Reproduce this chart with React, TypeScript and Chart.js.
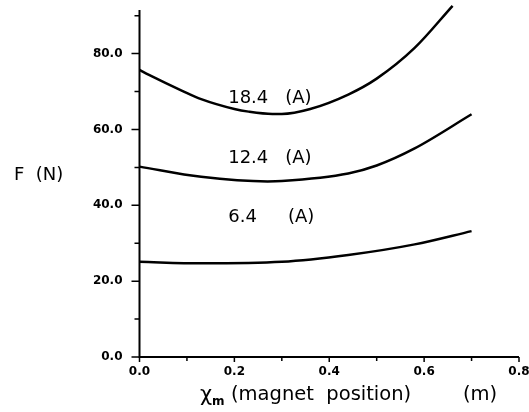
import React, { useEffect, useRef } from "react";
import { Chart, registerables } from "chart.js";

Chart.register(...registerables);

// Magnet position (m) and force (N) for three coil currents
const x184 = [0, 0.02, 0.09, 0.13, 0.2, 0.23, 0.28, 0.3, 0.36, 0.44, 0.5, 0.58, 0.66];
const f184 = [75.7, 74.4, 70.2, 68.0, 65.4, 64.7, 64.1, 64.1, 65.4, 69.2, 73.4, 81.5, 92.6];

const x124 = [0, 0.13, 0.27, 0.3, 0.44, 0.5, 0.58, 0.7];
const f124 = [50.2, 47.5, 46.3, 46.4, 48.4, 50.5, 55.0, 64.0];

const x64 = [0, 0.13, 0.3, 0.44, 0.58, 0.7];
const f64 = [25.1, 24.7, 25.1, 26.9, 29.7, 33.2];

const currentLabels = ["18.4", "12.4", "6.4"];
const xTicks = [0, 0.2, 0.4, 0.6, 0.8];
const xMinorTicks = [0.1, 0.3, 0.5, 0.7];
const yTicks = [0, 20, 40, 60, 80];
const yMinorTicks = [10, 30, 50, 70, 90];

// label anchors in data units: [number x, unit x, y]
const labelAnchors: [number, number, number][] = [
  [0.187, 0.307, 68.3],
  [0.187, 0.307, 52.5],
  [0.187, 0.313, 36.7],
];

const toPoints = (xs: number[], ys: number[]) => xs.map((x, i) => ({ x, y: ys[i] }));

const annotate = {
  id: "annotate",
  afterDraw(chart: any) {
    const { ctx, chartArea, scales } = chart;
    const xs = scales.x;
    const ys = scales.y;
    ctx.save();
    ctx.strokeStyle = "#000";
    ctx.fillStyle = "#000";
    ctx.lineWidth = 2;
    // axes
    ctx.beginPath();
    ctx.moveTo(chartArea.left, chartArea.top);
    ctx.lineTo(chartArea.left, chartArea.bottom);
    ctx.lineTo(chartArea.right, chartArea.bottom);
    ctx.stroke();
    ctx.lineWidth = 1.5;
    ctx.beginPath();
    yTicks.forEach((v) => {
      const p = ys.getPixelForValue(v);
      ctx.moveTo(chartArea.left - 8, p);
      ctx.lineTo(chartArea.left, p);
    });
    yMinorTicks.forEach((v) => {
      const p = ys.getPixelForValue(v);
      ctx.moveTo(chartArea.left - 5, p);
      ctx.lineTo(chartArea.left, p);
    });
    xTicks.forEach((v) => {
      const p = xs.getPixelForValue(v);
      ctx.moveTo(p, chartArea.bottom);
      ctx.lineTo(p, chartArea.bottom + 5);
    });
    xMinorTicks.forEach((v) => {
      const p = xs.getPixelForValue(v);
      ctx.moveTo(p, chartArea.bottom);
      ctx.lineTo(p, chartArea.bottom + 4);
    });
    ctx.stroke();

    // curve labels
    ctx.font = "18px 'DejaVu Sans'";
    ctx.textBaseline = "middle";
    ctx.textAlign = "left";
    labelAnchors.forEach(([nx, ux, y], i) => {
      const py = ys.getPixelForValue(y);
      ctx.fillText(currentLabels[i], xs.getPixelForValue(nx), py);
      ctx.fillText("(A)", xs.getPixelForValue(ux), py);
    });

    // axis titles
    ctx.font = "18px 'DejaVu Sans'";
    ctx.fillText("F  (N)", 14, 175);
    ctx.font = "21px 'DejaVu Sans'";
    ctx.fillText("χ", 200, 396);
    ctx.font = "bold 12px 'DejaVu Sans'";
    ctx.fillText("m", 212, 402);
    ctx.font = "19.5px 'DejaVu Sans'";
    ctx.fillText("(magnet  position)", 231, 395);
    ctx.fillText("(m)", 463, 395);
    ctx.restore();
  },
};

export default function App() {
  const ref = useRef<HTMLCanvasElement>(null);
  useEffect(() => {
    if (!ref.current) return;
    const line = (xs: number[], ys: number[]) => ({
      data: toPoints(xs, ys),
      borderColor: "#000",
      borderWidth: 2.5,
      pointRadius: 0,
      cubicInterpolationMode: "monotone" as const,
      fill: false,
      clip: false as any,
    });
    const chart = new Chart(ref.current, {
      type: "line",
      data: {
        datasets: [line(x184, f184), line(x124, f124), line(x64, f64)],
      },
      options: {
        animation: false,
        responsive: false,
        devicePixelRatio: 1,
        layout: { padding: { left: 0, right: 10, top: 10, bottom: 0 } },
        plugins: { legend: { display: false }, tooltip: { enabled: false } },
        scales: {
          x: {
            type: "linear",
            min: 0,
            max: 0.8,
            grid: { display: false, drawTicks: false },
            border: { display: false },
            afterBuildTicks: (s: any) => {
              s.ticks = xTicks.map((value) => ({ value }));
            },
            afterFit: (s: any) => {
              s.height = 55;
              s.paddingLeft = 0;
              s.paddingRight = 0;
            },
            ticks: {
              padding: 8,
              color: "#000",
              maxRotation: 0,
              font: { family: "'DejaVu Sans'", size: 12, weight: "bold" },
              callback: (v: any) => Number(v).toFixed(1),
            },
          },
          y: {
            type: "linear",
            min: 0,
            max: 91.5,
            grid: { display: false, drawTicks: false },
            border: { display: false },
            afterBuildTicks: (s: any) => {
              s.ticks = yTicks.map((value) => ({ value }));
            },
            afterFit: (s: any) => {
              s.width = 139.5;
              s.paddingTop = 0;
              s.paddingBottom = 0;
            },
            ticks: {
              padding: 17,
              color: "#000",
              font: { family: "'DejaVu Sans'", size: 12, weight: "bold" },
              callback: (v: any) => Number(v).toFixed(1),
            },
          },
        },
      },
      plugins: [annotate],
    });
    return () => chart.destroy();
  }, []);
  return (
    <div style={{ position: "fixed", left: 0, top: 0, width: 529, height: 412, background: "#fff" }}>
      <canvas ref={ref} width={529} height={412} />
    </div>
  );
}
